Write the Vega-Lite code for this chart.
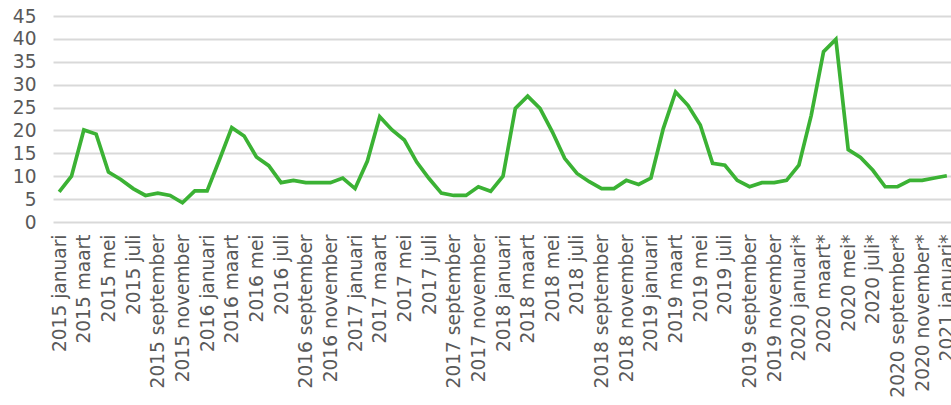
{
  "$schema": "https://vega.github.io/schema/vega-lite/v6.json",
  "autosize": {"type": "none"},
  "padding": {"left": 53, "top": 16, "right": 0, "bottom": 183},
  "width": 900,
  "height": 206,
  "background": "white",
  "config": {"view": {"stroke": null}, "font": "DejaVu Sans"},
  "data": {"values": [
    {"maand": "2015 januari", "waarde": 6.6},
    {"maand": "2015 februari", "waarde": 10.0},
    {"maand": "2015 maart", "waarde": 20.1},
    {"maand": "2015 april", "waarde": 19.2},
    {"maand": "2015 mei", "waarde": 10.9},
    {"maand": "2015 juni", "waarde": 9.3},
    {"maand": "2015 juli", "waarde": 7.3},
    {"maand": "2015 augustus", "waarde": 5.8},
    {"maand": "2015 september", "waarde": 6.3},
    {"maand": "2015 oktober", "waarde": 5.8},
    {"maand": "2015 november", "waarde": 4.2},
    {"maand": "2015 december", "waarde": 6.8},
    {"maand": "2016 januari", "waarde": 6.8},
    {"maand": "2016 februari", "waarde": 13.6},
    {"maand": "2016 maart", "waarde": 20.6},
    {"maand": "2016 april", "waarde": 18.8},
    {"maand": "2016 mei", "waarde": 14.2},
    {"maand": "2016 juni", "waarde": 12.3},
    {"maand": "2016 juli", "waarde": 8.6},
    {"maand": "2016 augustus", "waarde": 9.1},
    {"maand": "2016 september", "waarde": 8.6},
    {"maand": "2016 oktober", "waarde": 8.6},
    {"maand": "2016 november", "waarde": 8.6},
    {"maand": "2016 december", "waarde": 9.6},
    {"maand": "2017 januari", "waarde": 7.3},
    {"maand": "2017 februari", "waarde": 13.3},
    {"maand": "2017 maart", "waarde": 23.0},
    {"maand": "2017 april", "waarde": 20.1},
    {"maand": "2017 mei", "waarde": 17.9},
    {"maand": "2017 juni", "waarde": 13.1},
    {"maand": "2017 juli", "waarde": 9.5},
    {"maand": "2017 augustus", "waarde": 6.3},
    {"maand": "2017 september", "waarde": 5.8},
    {"maand": "2017 oktober", "waarde": 5.8},
    {"maand": "2017 november", "waarde": 7.7},
    {"maand": "2017 december", "waarde": 6.7},
    {"maand": "2018 januari", "waarde": 10.0},
    {"maand": "2018 februari", "waarde": 24.8},
    {"maand": "2018 maart", "waarde": 27.5},
    {"maand": "2018 april", "waarde": 24.8},
    {"maand": "2018 mei", "waarde": 19.7},
    {"maand": "2018 juni", "waarde": 13.9},
    {"maand": "2018 juli", "waarde": 10.6},
    {"maand": "2018 augustus", "waarde": 8.8},
    {"maand": "2018 september", "waarde": 7.3},
    {"maand": "2018 oktober", "waarde": 7.3},
    {"maand": "2018 november", "waarde": 9.1},
    {"maand": "2018 december", "waarde": 8.2},
    {"maand": "2019 januari", "waarde": 9.6},
    {"maand": "2019 februari", "waarde": 20.4},
    {"maand": "2019 maart", "waarde": 28.4},
    {"maand": "2019 april", "waarde": 25.5},
    {"maand": "2019 mei", "waarde": 21.2},
    {"maand": "2019 juni", "waarde": 12.8},
    {"maand": "2019 juli", "waarde": 12.4},
    {"maand": "2019 augustus", "waarde": 9.1},
    {"maand": "2019 september", "waarde": 7.7},
    {"maand": "2019 oktober", "waarde": 8.6},
    {"maand": "2019 november", "waarde": 8.6},
    {"maand": "2019 december", "waarde": 9.1},
    {"maand": "2020 januari*", "waarde": 12.4},
    {"maand": "2020 februari*", "waarde": 23.3},
    {"maand": "2020 maart*", "waarde": 37.2},
    {"maand": "2020 april*", "waarde": 39.9},
    {"maand": "2020 mei*", "waarde": 15.8},
    {"maand": "2020 juni*", "waarde": 14.1},
    {"maand": "2020 juli*", "waarde": 11.3},
    {"maand": "2020 augustus*", "waarde": 7.7},
    {"maand": "2020 september*", "waarde": 7.7},
    {"maand": "2020 oktober*", "waarde": 9.1},
    {"maand": "2020 november*", "waarde": 9.1},
    {"maand": "2020 december*", "waarde": 9.6},
    {"maand": "2021 januari*", "waarde": 10.1}
  ]},
  "mark": {"type": "line", "color": "#3bb234", "strokeWidth": 3.7, "strokeJoin": "miter"},
  "encoding": {
    "x": {
      "field": "maand",
      "type": "ordinal",
      "sort": null,
      "scale": {"type": "point", "padding": 0.5},
      "axis": {
        "title": null,
        "domain": false,
        "ticks": false,
        "grid": false,
        "labelAngle": -90,
        "labelAlign": "right",
        "labelBaseline": "middle",
        "labelPadding": 12,
        "labelFontSize": 18.6,
        "labelColor": "#595959",
        "labelFont": "DejaVu Sans",
        "labelLimit": 400,
        "labelOverlap": false,
        "labelBound": false,
        "values": ["2015 januari", "2015 maart", "2015 mei", "2015 juli", "2015 september", "2015 november",
                   "2016 januari", "2016 maart", "2016 mei", "2016 juli", "2016 september", "2016 november",
                   "2017 januari", "2017 maart", "2017 mei", "2017 juli", "2017 september", "2017 november",
                   "2018 januari", "2018 maart", "2018 mei", "2018 juli", "2018 september", "2018 november",
                   "2019 januari", "2019 maart", "2019 mei", "2019 juli", "2019 september", "2019 november",
                   "2020 januari*", "2020 maart*", "2020 mei*", "2020 juli*", "2020 september*", "2020 november*",
                   "2021 januari*"]
      }
    },
    "y": {
      "field": "waarde",
      "type": "quantitative",
      "scale": {"domain": [0, 45], "nice": false},
      "axis": {
        "title": null,
        "domain": false,
        "ticks": false,
        "values": [0, 5, 10, 15, 20, 25, 30, 35, 40, 45],
        "grid": true,
        "gridColor": "#d9d9d9",
        "gridWidth": 2,
        "labelPadding": 17,
        "labelFontSize": 18.6,
        "labelColor": "#595959",
        "labelFont": "DejaVu Sans"
      }
    }
  }
}
